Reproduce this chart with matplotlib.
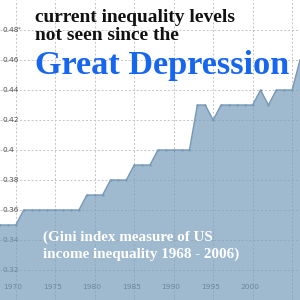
import matplotlib
matplotlib.use("Agg")
import matplotlib.pyplot as plt
import matplotlib.transforms as mtransforms

years = list(range(1968, 2007))
gini = [0.35, 0.35, 0.35,
        0.36, 0.36, 0.36, 0.36, 0.36, 0.36, 0.36, 0.36,
        0.37, 0.37, 0.37,
        0.38, 0.38, 0.38,
        0.39, 0.39, 0.39,
        0.40, 0.40, 0.40, 0.40, 0.40,
        0.43, 0.43, 0.42,
        0.43, 0.43, 0.43, 0.43, 0.43,
        0.44, 0.43, 0.44, 0.44, 0.44,
        0.46]
xticks = [1970, 1975, 1980, 1985, 1990, 1995, 2000, 2005]
xtick_labels = ["1970", "1975", "1980", "1985", "1990", "1995", "2000", ""]
yticks = [0.32, 0.34, 0.36, 0.38, 0.40, 0.42, 0.44, 0.46, 0.48]
ytick_labels = ["0.32", "0.34", "0.36", "0.38", "0.4", "0.42", "0.44", "0.46", "0.48"]

title1 = "current inequality levels"
title2 = "not seen since the"
title3 = "Great Depression"
sub1 = "(Gini index measure of US"
sub2 = "income inequality 1968 - 2006)"

fig = plt.figure(figsize=(3, 3), dpi=100)
ax = fig.add_axes([0, 0, 1, 1])
ax.set_xlim(1968, 2006)
ax.set_ylim(0.3, 0.5)

ax.fill_between(years, gini, 0.3, color="#779cba", alpha=0.7, linewidth=0, zorder=2)
ax.plot(years, gini, color="#7598b8", linewidth=1.0, marker="o", markersize=1.6,
        markeredgewidth=0, zorder=3)

ax.set_xticks(xticks)
ax.set_xticklabels(xtick_labels)
ax.set_yticks(yticks)
ax.set_yticklabels(ytick_labels)
ax.grid(True, color="#c4c4c4", linestyle=(0, (2, 2)), linewidth=0.7, zorder=0)
ax.set_axisbelow(True)
ax.tick_params(axis="both", length=0, labelsize=5.3, labelcolor="#505050")
ax.tick_params(axis="y", pad=-1.5)
ax.tick_params(axis="x", pad=-11.5)
for lab in ax.get_yticklabels():
    lab.set_horizontalalignment("left")
    lab.set_verticalalignment("center")
off = mtransforms.ScaledTranslation(-3 / 100, 0, fig.dpi_scale_trans)
for lab in ax.get_xticklabels():
    lab.set_transform(lab.get_transform() + off)
for s in ax.spines.values():
    s.set_visible(False)

ax.text(0.058, 0.897, "*", transform=ax.transAxes, fontsize=4, color="#505050")

renderer = fig.canvas.get_renderer()

def fit(txt, target_w):
    bb = txt.get_window_extent(renderer=renderer)
    txt.set_fontsize(txt.get_fontsize() * target_w / bb.width)

ser = ["Liberation Serif", "DejaVu Serif"]
t1 = fig.text(35 / 300, 1 - 22 / 300, title1, fontsize=14, fontweight="bold",
              family=ser, color="#111111", ha="left", va="baseline")
fit(t1, 201)
t2 = fig.text(35 / 300, 1 - 40 / 300, title2, fontsize=t1.get_fontsize(), fontweight="bold",
              family=ser, color="#111111", ha="left", va="baseline")
t3 = fig.text(35 / 300, 1 - 74 / 300, title3, fontsize=22, fontweight="bold",
              family=ser, color="#1766ee", ha="left", va="baseline")
fit(t3, 255)
s1 = fig.text(43 / 300, 1 - 241 / 300, sub1, fontsize=9, fontweight="bold",
              family=ser, color="white", ha="left", va="baseline")
fit(s1, 170)
s2 = fig.text(43 / 300, 1 - 258 / 300, sub2, fontsize=s1.get_fontsize(), fontweight="bold",
              family=ser, color="white", ha="left", va="baseline")

fig.savefig("out.png", dpi=100)
